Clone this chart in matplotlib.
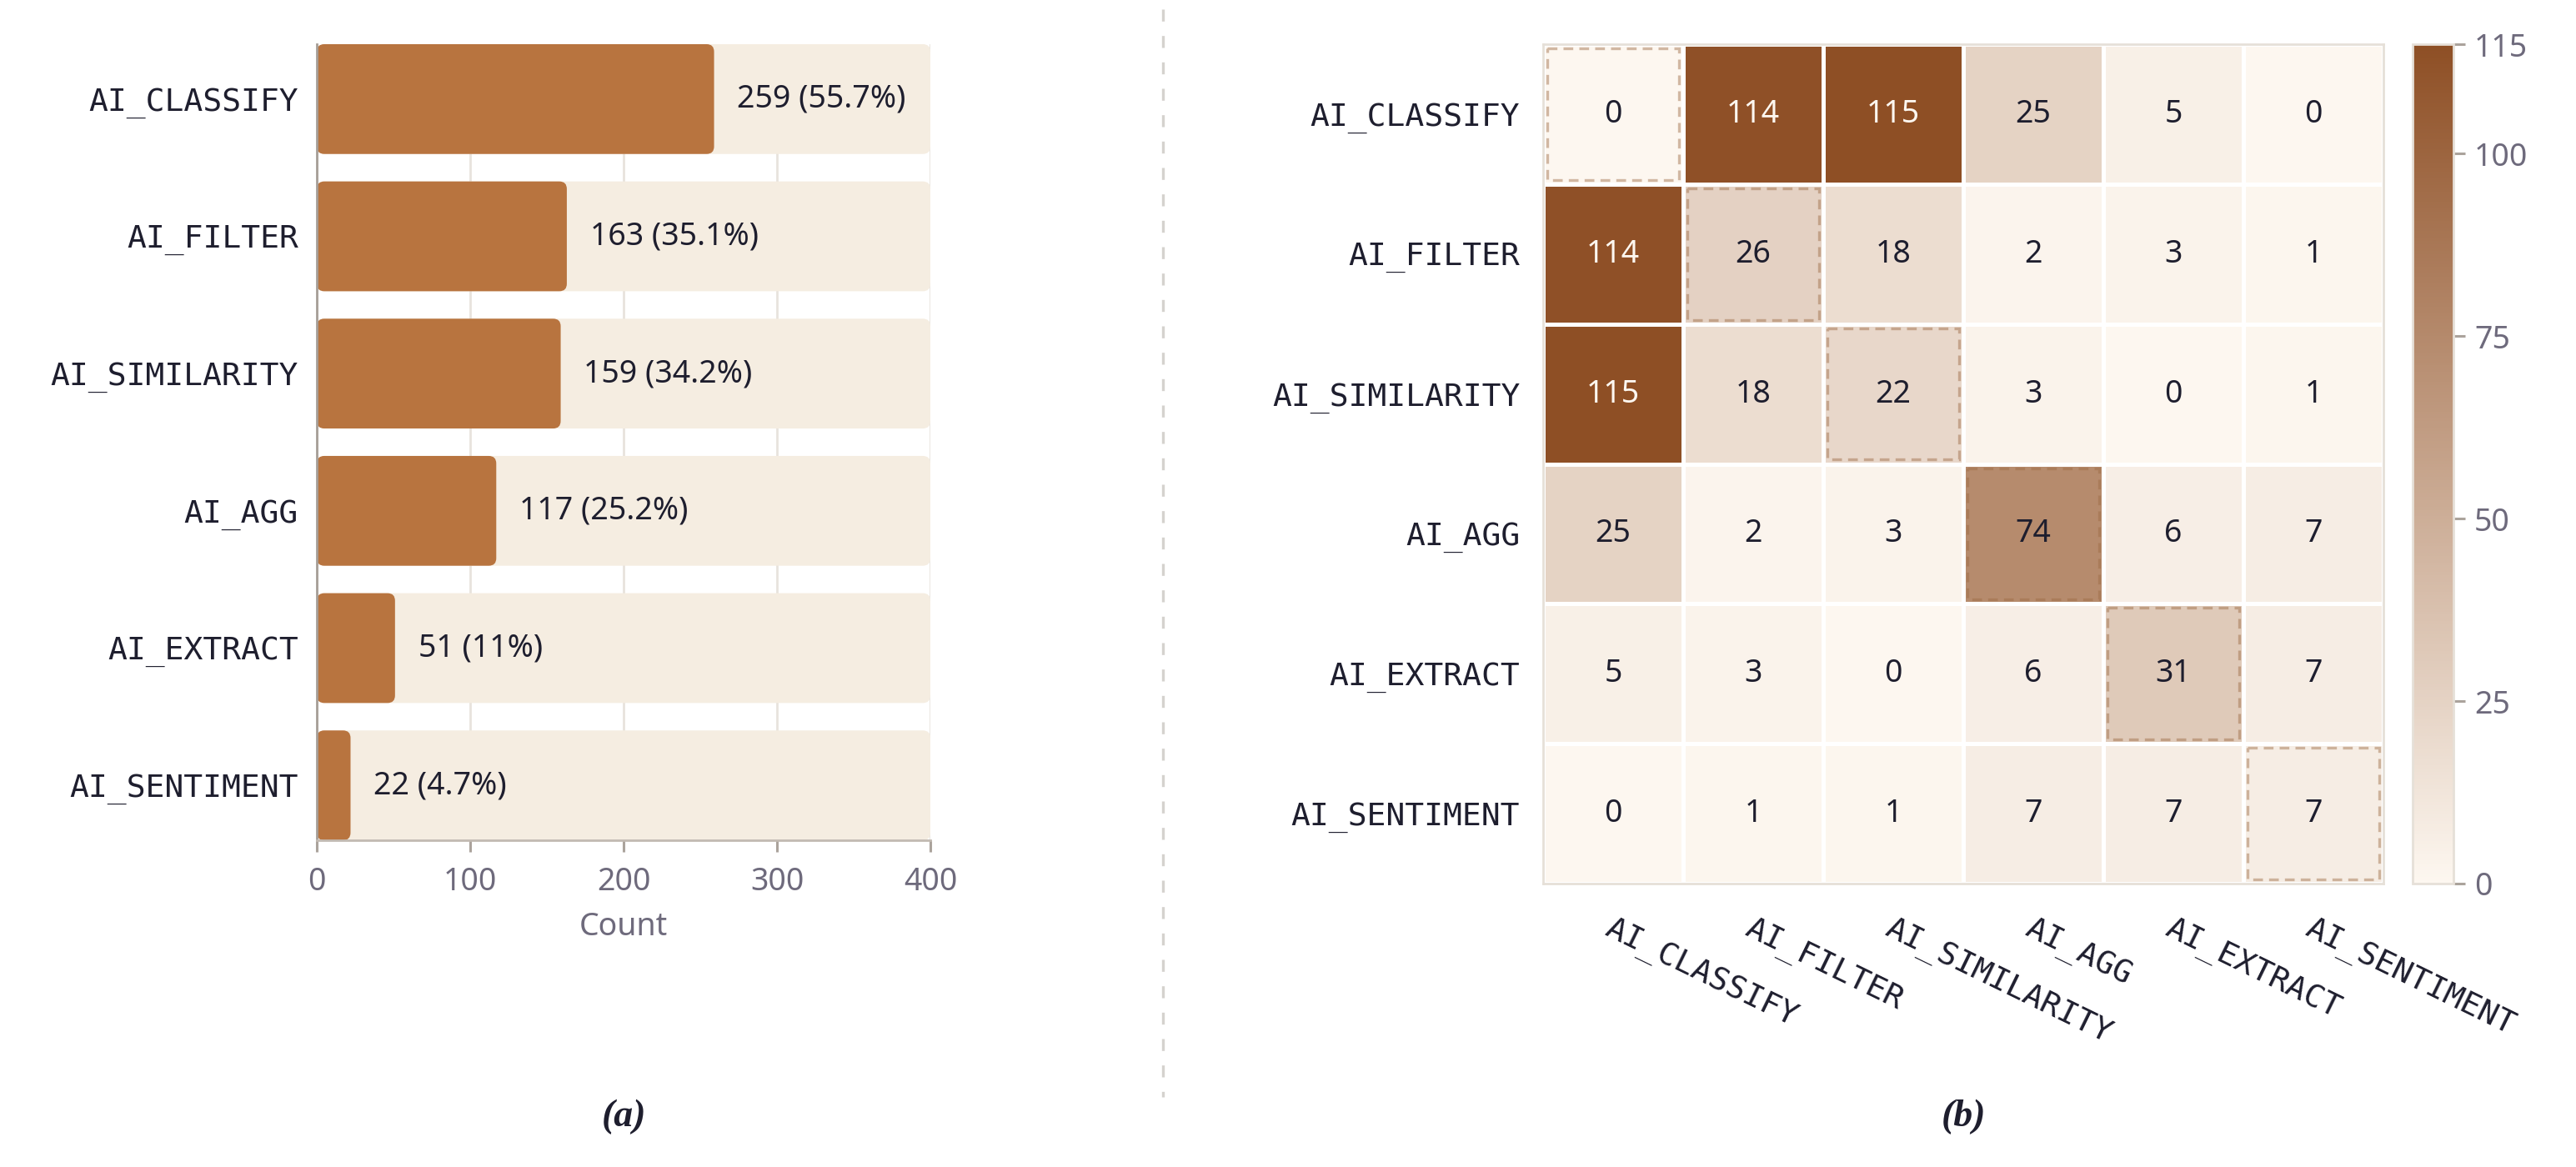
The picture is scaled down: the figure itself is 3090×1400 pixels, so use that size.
import matplotlib
matplotlib.use("Agg")
import matplotlib.pyplot as plt
import numpy as np
from matplotlib.patches import FancyBboxPatch, Rectangle
from matplotlib.colors import LinearSegmentedColormap
from matplotlib.lines import Line2D

# ---------------- data ----------------
functions = ["AI_CLASSIFY", "AI_FILTER", "AI_SIMILARITY", "AI_AGG", "AI_EXTRACT", "AI_SENTIMENT"]
counts = [259, 163, 159, 117, 51, 22]
total_queries = 465
x_ticks = [0, 100, 200, 300, 400]
cooc = [
    [0, 114, 115, 25, 5, 0],
    [114, 26, 18, 2, 3, 1],
    [115, 18, 22, 3, 0, 1],
    [25, 2, 3, 74, 6, 7],
    [5, 3, 0, 6, 31, 7],
    [0, 1, 1, 7, 7, 7],
]
cbar_ticks = [0, 25, 50, 75, 100, 115]

# ---------------- style ----------------
DARK = "#1E1E2E"
GREY = "#6E6A7C"
BAR = "#B8743F"
BAR_BG = "#F5EDE1"
SPINE = "#C2BAB2"
MONO = "DejaVu Sans Mono"
SANS = "Noto Sans"
plt.rcParams["font.family"] = [SANS, "DejaVu Sans"]

W, H, DPI = 3090, 1400, 200
fig = plt.figure(figsize=(W / DPI, H / DPI), dpi=DPI)

def rect(l, t, r, b):
    return [l / W, 1 - b / H, (r - l) / W, (b - t) / H]

# ---------------- (a) bar chart ----------------
ax = fig.add_axes(rect(380, 53, 1116, 1008))
n = len(functions)
ypos = np.arange(n)
bh = 0.8
ax.set_xlim(0, 400)
ax.set_ylim(n - 1 + bh / 2, -bh / 2)

ax_w_px = (1116 - 380)
ax_h_px = (1008 - 53)
px_x = ax_w_px / 400.0
px_y = ax_h_px / (n - 1 + bh)
aspect = px_x / px_y
r_px = 9
for i, v in enumerate(counts):
    bg = FancyBboxPatch((0, i - bh / 2), 400, bh,
                        boxstyle=f"round,pad=0,rounding_size={r_px / px_x}",
                        mutation_aspect=aspect, fc=BAR_BG, ec="none", zorder=1)
    ax.add_patch(bg)
    b = FancyBboxPatch((0, i - bh / 2), v, bh,
                       boxstyle=f"round,pad=0,rounding_size={r_px / px_x}",
                       mutation_aspect=aspect, fc=BAR, ec="none", zorder=2)
    ax.add_patch(b)
    pct = round(100 * v / total_queries, 1)
    ax.annotate(f"{v} ({pct:g}%)", (v, i), xytext=(10, 0), textcoords="offset points",
                ha="left", va="center", fontsize=13.5, color=DARK, zorder=3)

ax.set_yticks(ypos)
ax.set_yticklabels(functions, fontfamily=MONO, fontsize=13.7, color=DARK)
ax.tick_params(axis="y", length=0, pad=8)
ax.set_xticks(x_ticks)
ax.tick_params(axis="x", length=5, width=1.1, color="#ABA39C", labelsize=13.5,
               labelcolor=GREY, pad=6)
ax.set_xlabel("Count", fontsize=13.5, color=GREY, labelpad=6)
ax.grid(axis="x", color="#E8E3DD", lw=1.0, zorder=0)
ax.set_axisbelow(True)
for s in ["top", "right"]:
    ax.spines[s].set_visible(False)
ax.spines["left"].set_color("#A69E97")
ax.spines["bottom"].set_color(SPINE)
ax.spines["left"].set_linewidth(1.0)
ax.spines["bottom"].set_linewidth(1.0)

fig.text((380 + 1116) / 2 / W, 1 - 1340 / H, "(a)", ha="center", va="center",
         fontsize=16.5, style="italic", weight="bold", family="Liberation Serif", color=DARK)

# ---------------- separator ----------------
fig.add_artist(Line2D([1395 / W, 1395 / W], [1 - 11 / H, 1 - 1316 / H],
                      transform=fig.transFigure, color="#D5D2CE", lw=1.2,
                      linestyle=(0, (4.3, 5.2))))

# ---------------- (b) heatmap ----------------
hx = fig.add_axes(rect(1851, 53, 2859, 1060))
cmap = LinearSegmentedColormap.from_list("brown", ["#FDF7F0", "#8E4F25"])
M = np.array(cooc)
mesh = hx.pcolormesh(np.arange(n + 1), np.arange(n + 1), M, cmap=cmap,
                     vmin=0, vmax=115, edgecolors="white", linewidth=1.8)
hx.set_xlim(0, n)
hx.set_ylim(n, 0)
for i in range(n):
    for j in range(n):
        v = M[i, j]
        hx.text(j + 0.5, i + 0.5, str(v), ha="center", va="center", fontsize=13.5,
                color="#FDF7F0" if v > 90 else DARK)
    ins = 0.03
    hx.add_patch(Rectangle((i + ins, i + ins), 1 - 2 * ins, 1 - 2 * ins, fill=False,
                           ec="#9C6A43", alpha=0.45, lw=1.2, linestyle=(0, (3.5, 2.2))))

hx.set_yticks(np.arange(n) + 0.5)
hx.set_yticklabels(functions, fontfamily=MONO, fontsize=13.7, color=DARK)
hx.set_xticks(np.arange(n) + 0.5)
hx.set_xticklabels(functions, fontfamily=MONO, fontsize=13.7, color=DARK,
                   rotation=-26, ha="left", va="top", rotation_mode="anchor")
hx.tick_params(axis="both", length=0)
hx.tick_params(axis="y", pad=10)
hx.tick_params(axis="x", pad=13)
for s in hx.spines.values():
    s.set_color("#E6E0D8")
    s.set_linewidth(1.0)

fig.text((1851 + 2859) / 2 / W, 1 - 1340 / H, "(b)", ha="center", va="center",
         fontsize=16.5, style="italic", weight="bold", family="Liberation Serif", color=DARK)

# ---------------- colorbar ----------------
cax = fig.add_axes(rect(2894, 53, 2943, 1060))
cb = fig.colorbar(mesh, cax=cax, ticks=cbar_ticks)
cb.outline.set_edgecolor("#E6E0D8")
cb.outline.set_linewidth(1.0)
cax.tick_params(length=5, width=1.1, color="#ABA39C", labelsize=13.5, labelcolor=GREY, pad=4)

fig.savefig("out.png", dpi=DPI)
